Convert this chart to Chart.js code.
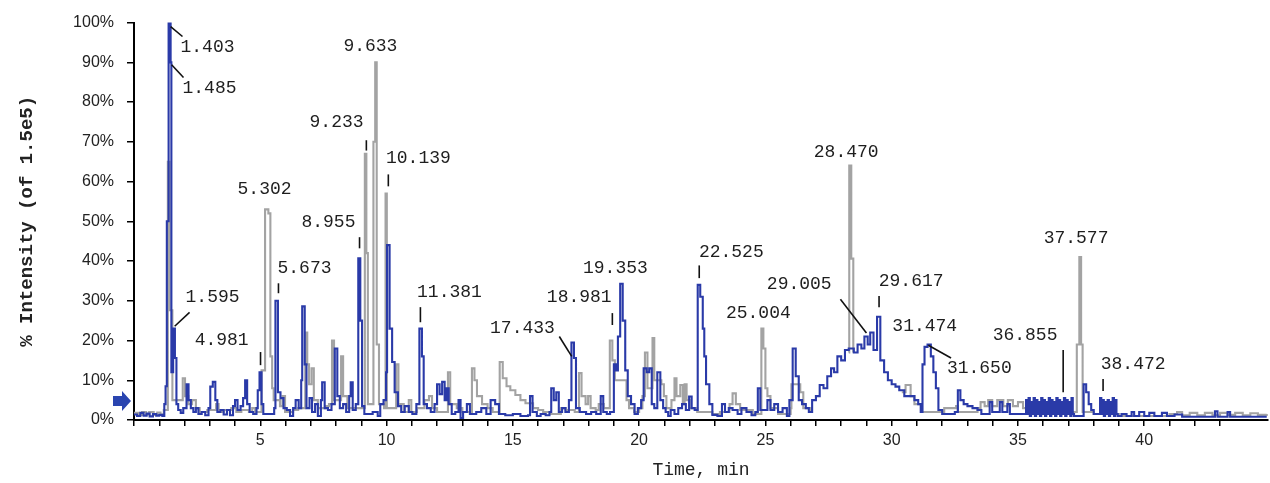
<!DOCTYPE html>
<html><head><meta charset="utf-8">
<script src="https://cdn.jsdelivr.net/npm/chart.js@4"></script>
<style>html,body{margin:0;padding:0;background:#fff}</style></head>
<body><canvas id="c" width="1270" height="483" style="width:1270px;height:483px"></canvas>
<script>
// ---- data: [time (min), intensity (%)] ----
const blueTrace=[[0.00,1.4],[0.12,1.0],[0.25,1.8],[0.38,1.1],[0.50,1.6],[0.62,0.9],[0.75,1.5],[0.88,1.1],[1.00,1.3],[1.12,1.0],[1.20,4],[1.25,8.5],[1.30,50],[1.37,100],[1.45,90],[1.48,12],[1.55,23],[1.62,15.6],[1.68,4],[1.75,2.5],[1.85,1.8],[1.95,3],[2.08,9],[2.16,5],[2.25,3],[2.35,2],[2.45,3],[2.55,1.5],[2.68,2],[2.82,1.2],[2.95,3],[3.02,8.4],[3.12,9.6],[3.22,5],[3.30,2],[3.42,2.5],[3.55,1.4],[3.68,2.5],[3.80,1.2],[3.92,3.5],[4.00,5],[4.10,2.5],[4.22,3.5],[4.32,5.5],[4.40,10],[4.48,4],[4.58,2],[4.72,1.5],[4.85,3],[4.90,7.5],[4.97,12],[5.05,4],[5.12,1.5],[5.55,3],[5.60,30],[5.70,7],[5.80,5.5],[5.92,3],[6.05,2.5],[6.18,1],[6.30,3],[6.40,5],[6.52,3],[6.62,10],[6.66,28.6],[6.76,14],[6.83,3],[6.95,5.5],[7.05,2],[7.17,4],[7.28,1],[7.40,5],[7.45,9.5],[7.55,3],[7.68,2.5],[7.82,4],[7.95,18],[8.05,6],[8.15,3],[8.28,4],[8.40,2],[8.52,6],[8.58,9.5],[8.66,2.5],[8.78,4],[8.88,40.7],[8.96,25],[9.03,3.5],[9.12,1.5],[9.45,2],[9.65,1],[9.75,4],[9.88,5],[9.98,12],[10.02,44],[10.12,23],[10.22,14.6],[10.32,7],[10.45,3.5],[10.58,2],[10.72,3.5],[10.88,2],[11.02,1.5],[11.18,4],[11.30,23],[11.40,16],[11.47,4],[11.60,3],[11.75,2],[11.90,4],[12.00,9],[12.10,6.5],[12.20,9.6],[12.30,5],[12.38,8],[12.46,4],[12.58,1.5],[12.72,2],[12.85,5],[12.93,0.5],[13.03,2],[13.18,4],[13.30,1.5],[13.55,2],[13.75,3],[13.95,1.5],[14.12,5],[14.30,4],[14.45,1.5],[14.70,1.2],[15.00,1.5],[15.30,1.0],[15.60,1.2],[15.68,6],[15.78,2],[15.95,1],[16.10,1.5],[16.30,1.2],[16.45,2],[16.52,8],[16.62,5],[16.72,7],[16.82,2],[16.95,3],[17.08,2],[17.22,5],[17.32,19.5],[17.42,15.6],[17.50,3],[17.65,2],[17.90,1.5],[18.10,2],[18.30,1.5],[18.48,6],[18.58,2],[18.72,1.5],[18.85,2],[19.00,14],[19.08,12.5],[19.16,21],[19.25,34.3],[19.35,25],[19.45,12.5],[19.55,6],[19.68,4],[19.82,1.5],[19.95,3],[20.08,5],[20.18,13],[20.30,12],[20.40,13],[20.50,4],[20.60,3],[20.72,12],[20.84,5],[20.95,3],[21.05,2],[21.15,1],[21.25,2.5],[21.40,1.5],[21.55,3],[21.70,4],[21.85,2.5],[21.98,5.9],[22.08,3],[22.20,2.5],[22.32,34],[22.42,31],[22.52,23],[22.58,16],[22.65,9],[22.78,4],[22.90,1.3],[23.10,1.0],[23.28,4],[23.40,2],[23.55,3],[23.70,2.5],[23.90,1.5],[24.05,3],[24.25,2],[24.45,1.2],[24.60,2],[24.70,8],[24.80,2.5],[25.08,5],[25.20,2.5],[25.35,4],[25.50,2],[25.68,3],[25.85,1],[25.95,5],[26.08,18],[26.20,11],[26.32,5],[26.45,4],[26.60,3],[26.72,2],[26.85,5],[27.00,6],[27.15,8.8],[27.30,8],[27.45,11],[27.60,13],[27.72,12],[27.85,16],[28.00,15],[28.15,17.6],[28.30,18],[28.50,17],[28.65,19],[28.80,18],[28.92,21],[29.05,19],[29.15,22],[29.28,17.6],[29.42,26],[29.55,15],[29.70,12],[29.85,10],[30.00,9],[30.15,8.4],[30.30,7.5],[30.50,6],[30.90,5],[31.05,4],[31.15,2],[31.22,14],[31.30,18.4],[31.42,19],[31.55,16],[31.65,12],[31.75,8],[31.85,2.5],[32.00,1.5],[32.50,2],[32.62,7.5],[32.72,5],[32.85,4],[33.00,3.5],[33.20,3],[33.40,2.5],[33.55,1.5],[33.88,4.5],[33.98,2],[34.28,4.5],[34.38,2],[34.58,4],[34.68,1.5],[35.32,5],[35.37,1.5],[35.42,5.5],[35.47,1],[35.52,4.5],[35.57,1.5],[35.62,5.5],[35.67,1],[35.72,5],[35.77,1.5],[35.82,4.5],[35.87,1],[35.92,5.5],[35.97,1.5],[36.02,5],[36.07,1],[36.12,4.5],[36.17,1.5],[36.22,5.5],[36.27,1],[36.32,5],[36.37,1.5],[36.42,4.5],[36.47,1],[36.52,5.5],[36.57,1.5],[36.62,5],[36.67,1],[36.72,4.5],[36.77,1.5],[36.82,5.5],[36.87,1],[36.92,5],[36.97,1.5],[37.02,4.5],[37.07,1],[37.12,5.5],[37.17,1.5],[37.22,1],[37.60,9],[37.70,7],[37.80,4],[37.90,2.5],[38.00,1.5],[38.25,5.5],[38.30,1.5],[38.35,5],[38.40,1],[38.45,4.5],[38.50,1.5],[38.55,5],[38.60,1],[38.65,4.5],[38.70,1.5],[38.75,5.5],[38.80,1],[38.85,5],[38.90,1.5],[38.95,1],[39.10,1.5],[39.30,1],[39.50,2],[39.60,1],[39.80,2],[40.00,1],[40.20,1.8],[40.40,1],[40.70,1.8],[40.90,1],[41.20,1.4],[41.50,0.8],[42.80,2.2],[42.90,0.8],[43.30,2],[43.40,0.8],[44.85,0.8]];
const grayTrace=[[0.00,1.8],[0.18,1.3],[0.32,2.0],[0.48,1.4],[0.60,2.0],[0.78,1.3],[0.92,1.9],[1.05,1.4],[1.18,2.5],[1.34,65],[1.41,27.6],[1.52,5],[1.80,5],[1.93,10.5],[2.02,6],[2.15,4],[2.30,5],[2.45,3],[2.60,2],[2.90,2.5],[3.25,4],[3.35,2],[3.55,2.5],[3.85,3],[4.05,2],[4.25,2.5],[4.55,2],[4.68,3],[4.80,2],[5.05,12.5],[5.19,53],[5.32,52],[5.40,16],[5.47,8],[5.53,5],[5.78,3.5],[5.88,6],[5.98,2],[6.30,2.5],[6.50,3],[6.78,22],[6.86,14],[6.93,9],[7.03,13],[7.12,5],[7.28,3],[7.58,3.5],[7.72,4],[7.84,20],[7.92,5],[8.20,16],[8.28,6],[8.45,3],[8.70,3],[9.14,67],[9.20,42],[9.26,4],[9.48,70],[9.55,90],[9.61,19],[9.70,4],[9.90,3],[9.96,57],[10.01,3],[10.38,14],[10.47,4],[10.68,2],[10.88,5],[10.98,2],[11.20,3],[11.50,5],[11.68,6],[11.80,3],[12.00,2],[12.43,12],[12.52,4],[12.78,3],[13.00,2],[13.38,13],[13.48,10],[13.58,6],[13.78,4],[14.00,3],[14.20,2],[14.48,14.6],[14.60,10.5],[14.75,8.5],[14.90,7.5],[15.10,6.3],[15.30,5],[15.50,4.2],[15.80,3],[16.00,2.5],[16.20,2],[16.50,1.5],[16.90,3],[17.10,2.5],[17.45,2],[17.62,11.8],[17.72,6],[17.88,4],[17.98,6],[18.08,3],[18.28,2.5],[18.40,4],[18.60,3],[18.84,20],[18.94,15],[19.04,10],[19.50,5],[19.60,3],[19.80,2],[20.00,3],[20.13,6],[20.23,17],[20.33,8],[20.53,20.6],[20.60,10],[20.88,9],[20.98,6],[21.08,3],[21.28,5],[21.40,10.5],[21.48,6],[21.63,8.8],[21.73,4],[21.80,9],[21.88,5],[22.00,3],[22.30,2],[22.90,1.5],[23.20,2],[23.58,4],[23.70,6.7],[23.83,4],[24.00,2.5],[24.50,1.5],[24.84,23],[24.92,18],[25.00,8],[25.08,6],[25.20,3],[25.50,1.5],[26.00,3],[26.03,9],[26.38,7],[26.50,3],[26.80,2],[27.00,null],[28.30,17],[28.32,64],[28.40,40.6],[28.48,17],[28.60,null],[30.40,7],[30.55,8.8],[30.75,6],[30.90,4],[31.20,2],[31.90,2],[32.08,3],[32.55,3.5],[32.62,2],[33.40,3],[33.52,4.5],[33.68,3.5],[33.82,5],[33.98,3.5],[34.18,5],[34.42,3.5],[34.60,5],[34.80,3.5],[35.00,4.5],[35.20,3],[35.35,2],[37.30,2],[37.33,19],[37.43,41],[37.50,19],[37.56,2],[38.00,1.5],[39.00,1],[41.00,1.5],[41.30,2],[41.50,1.2],[41.80,1.8],[42.10,1.2],[42.40,1.8],[42.70,1.2],[43.00,1.8],[43.30,1.3],[43.60,1.8],[43.90,1.2],[44.20,1.7],[44.50,1.3],[44.85,1.5]];
const yTickLabels=['0%','10%','20%','30%','40%','50%','60%','70%','80%','90%','100%'];
const xTickLabels=['5','10','15','20','25','30','35','40'];
// peak annotations: text, anchor (time, intensity), optional leader line
const peakLabels=[
 {text:'1.403',t:2.91,v:93.7,line:[1.45,99.0,1.92,96.5]},
 {text:'1.485',t:2.99,v:83.4,line:[1.49,89.4,1.96,86.2]},
 {text:'1.595',t:3.11,v:30.9,line:[1.61,23.6,2.20,27.1]},
 {text:'4.981',t:3.47,v:20.1,line:[5.01,17.1,5.01,13.8]},
 {text:'5.302',t:5.17,v:58.0},
 {text:'5.673',t:6.75,v:38.2,line:[5.72,34.4,5.72,31.9]},
 {text:'8.955',t:7.70,v:49.7,line:[8.93,46.0,8.93,43.2]},
 {text:'9.233',t:8.02,v:74.9,line:[9.20,70.4,9.20,67.8]},
 {text:'9.633',t:9.36,v:94.0},
 {text:'10.139',t:11.26,v:65.8,line:[10.07,61.8,10.07,58.8]},
 {text:'11.381',t:12.49,v:32.2,line:[11.34,28.4,11.34,24.6]},
 {text:'17.433',t:15.38,v:23.1,line:[16.84,21.0,17.33,16.0]},
 {text:'18.981',t:17.63,v:30.9,line:[18.94,26.9,18.94,23.9]},
 {text:'19.353',t:19.06,v:38.2},
 {text:'22.525',t:23.65,v:42.2,line:[22.38,38.9,22.38,35.7]},
 {text:'25.004',t:24.72,v:26.9},
 {text:'28.470',t:28.20,v:67.3},
 {text:'29.005',t:26.34,v:34.2,line:[27.97,30.4,29.00,21.9]},
 {text:'29.617',t:30.77,v:34.9,line:[29.50,31.2,29.50,28.4]},
 {text:'31.474',t:31.31,v:23.5},
 {text:'31.650',t:33.47,v:13.1,line:[31.45,18.8,32.35,15.6]},
 {text:'36.855',t:35.28,v:21.4,line:[36.79,17.6,36.79,7.0]},
 {text:'37.577',t:37.30,v:45.7},
 {text:'38.472',t:39.56,v:14.1,line:[38.37,10.3,38.37,7.3]}
];
const arrowLevel=4.8;

const toXY=tr=>tr.map(p=>({x:p[0],y:p[1]}));

const annot={id:'annot',
 afterDatasetsDraw(chart){
  const {ctx,scales:{x,y}}=chart;
  ctx.save();
  ctx.fillStyle='#1e1e1e';ctx.strokeStyle='#111';ctx.lineWidth=1.6;
  ctx.font='18px "Liberation Mono", monospace';
  ctx.textAlign='center';ctx.textBaseline='middle';
  peakLabels.forEach(p=>{
    ctx.fillText(p.text,x.getPixelForValue(p.t),y.getPixelForValue(p.v));
    if(p.line){ctx.beginPath();
      ctx.moveTo(x.getPixelForValue(p.line[0]),y.getPixelForValue(p.line[1]));
      ctx.lineTo(x.getPixelForValue(p.line[2]),y.getPixelForValue(p.line[3]));
      ctx.stroke();}
  });
  const ax=chart.chartArea.left, ay=y.getPixelForValue(arrowLevel);
  ctx.fillStyle='#2a45b0';ctx.beginPath();
  ctx.moveTo(ax-21,ay-5);ctx.lineTo(ax-12,ay-5);ctx.lineTo(ax-12,ay-10);
  ctx.lineTo(ax-3,ay);ctx.lineTo(ax-12,ay+10);ctx.lineTo(ax-12,ay+5);ctx.lineTo(ax-21,ay+5);
  ctx.closePath();ctx.fill();
  ctx.restore();
 }};

new Chart(document.getElementById('c'),{
 type:'line',
 data:{datasets:[
  {label:'blue',data:toXY(blueTrace),borderColor:'#2a3aa8',borderWidth:2.1,pointRadius:0,stepped:true,fill:false,spanGaps:false},
  {label:'gray',data:toXY(grayTrace),borderColor:'#a3a3a3',borderWidth:2.1,pointRadius:0,stepped:true,fill:false,spanGaps:false}
 ]},
 options:{responsive:false,animation:false,devicePixelRatio:1,
  layout:{padding:{top:22,right:2,left:0,bottom:0}},
  plugins:{legend:{display:false},tooltip:{enabled:false}},
  scales:{
   x:{type:'linear',min:0,max:44.9,
    afterBuildTicks:s=>{s.ticks=s.ticks.filter(t=>Number.isInteger(t.value));},
    afterFit:s=>{s.height=63;},
    ticks:{stepSize:1,autoSkip:false,maxRotation:0,padding:5,color:'#222',
      font:{family:'"Liberation Sans", sans-serif',size:16},
      callback:v=>xTickLabels.includes(String(v))?String(v):''},
    grid:{drawOnChartArea:false,tickLength:6,color:'#000',lineWidth:1.5},
    border:{color:'#000',width:2},
    title:{display:true,text:'Time, min',color:'#222',font:{family:'"Liberation Mono", monospace',size:18},padding:{top:2,bottom:2}}
   },
   y:{min:0,max:100,
    afterFit:s=>{s.width=134;},
    ticks:{stepSize:10,padding:13,color:'#222',
      font:{family:'"Liberation Sans", sans-serif',size:16},
      callback:v=>yTickLabels[Math.round(v/10)]},
    grid:{drawOnChartArea:false,tickLength:7,color:'#000',lineWidth:1.5},
    border:{color:'#000',width:2},
    title:{display:true,text:'% Intensity (of 1.5e5)',color:'#222',font:{family:'"Liberation Mono", monospace',size:19,weight:'bold'},padding:{top:16,bottom:0}}
   }
  }
 },
 plugins:[annot]
});
</script></body></html>
